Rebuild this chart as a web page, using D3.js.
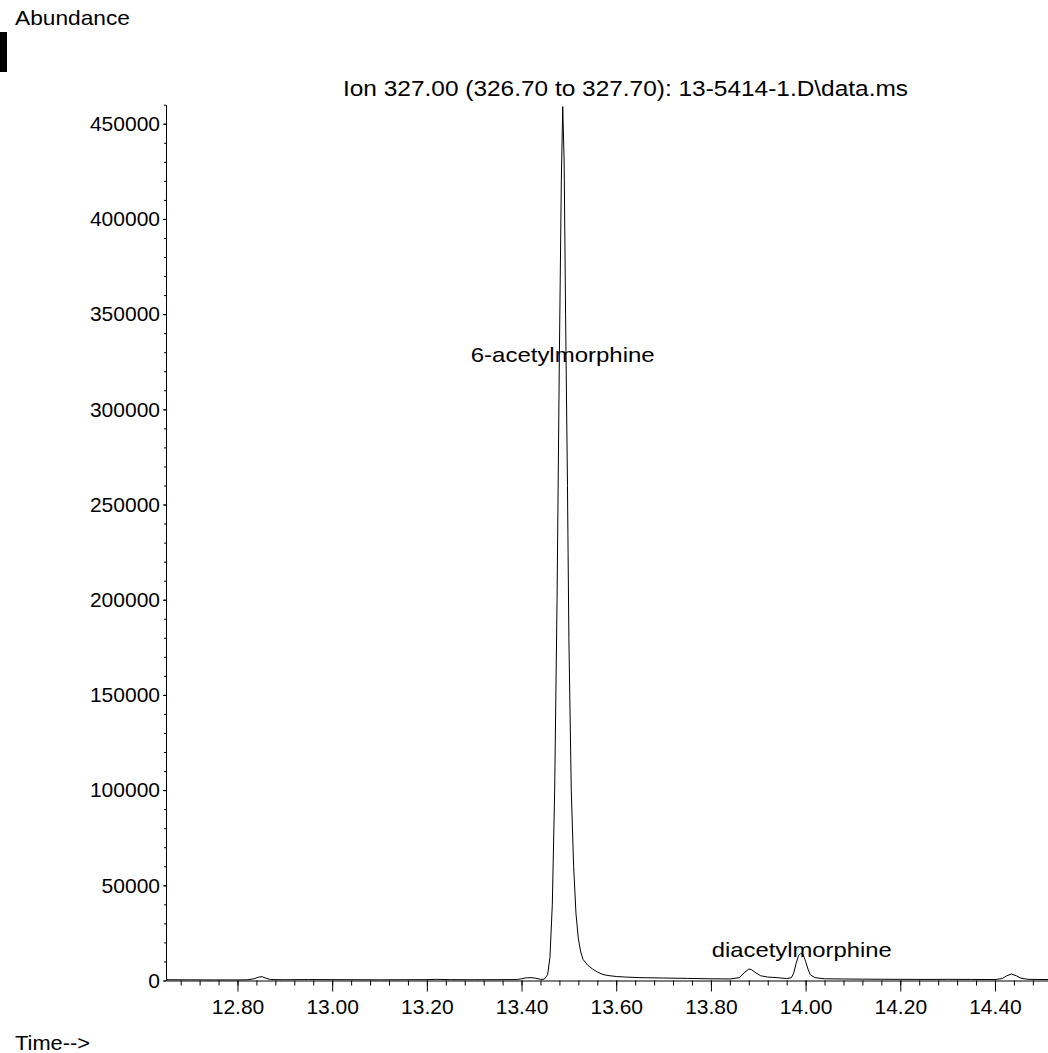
<!DOCTYPE html>
<html>
<head>
<meta charset="utf-8">
<script src="https://cdn.jsdelivr.net/npm/d3@7"></script>
<style>
  html, body { margin: 0; padding: 0; background: #fff; }
  svg text { font-family: "Liberation Sans", Arial, sans-serif; fill: #000; }
</style>
</head>
<body>
<svg id="chart" width="1048" height="1053"></svg>
<script>
// ---- Data ----
const times = [12.65, 12.70, 12.75, 12.80, 12.82, 12.835, 12.845, 12.852, 12.86, 12.87,
  12.90, 12.95, 13.00, 13.05, 13.10, 13.15, 13.20, 13.22, 13.25, 13.30,
  13.35, 13.39, 13.40, 13.41, 13.42, 13.43, 13.44, 13.448, 13.455, 13.46,
  13.465, 13.47, 13.475, 13.48, 13.484, 13.487, 13.49, 13.493, 13.497, 13.50,
  13.505, 13.51, 13.515, 13.52, 13.525, 13.53, 13.54, 13.55, 13.56, 13.57,
  13.58, 13.60, 13.62, 13.65, 13.70, 13.75, 13.80, 13.84, 13.86, 13.87,
  13.88, 13.885, 13.895, 13.905, 13.92, 13.94, 13.96, 13.97, 13.975, 13.98,
  13.985, 13.99, 13.995, 14.00, 14.005, 14.01, 14.02, 14.04, 14.08, 14.12,
  14.16, 14.20, 14.25, 14.30, 14.35, 14.40, 14.415, 14.425, 14.435, 14.445,
  14.455, 14.47, 14.512];
const abundance = [400, 350, 300, 300, 350, 900, 1800, 2000, 1200, 500,
  400, 500, 450, 400, 350, 400, 450, 600, 450, 400,
  450, 500, 900, 1400, 1500, 1200, 600, 700, 3000, 12000,
  40000, 100000, 200000, 330000, 420000, 459000, 430000, 350000, 260000, 180000,
  100000, 60000, 35000, 22000, 15000, 11000, 8000, 6000, 4500, 3300,
  2700, 2100, 1800, 1500, 1300, 1100, 900, 800, 1500, 4000,
  6000, 5800, 4000, 2500, 1800, 1500, 1000, 1500, 4000, 9000,
  13000, 14300, 13500, 10000, 6000, 3000, 1500, 900, 800, 700,
  650, 600, 550, 600, 550, 500, 1000, 2500, 3400, 2500,
  1200, 600, 500];

const xMajorTicks = [12.80, 13.00, 13.20, 13.40, 13.60, 13.80, 14.00, 14.20, 14.40];
const xMinorTicks = d3.range(12.68, 14.50, 0.04).map(v => +v.toFixed(2));
const yMajorTicks = d3.range(0, 450001, 50000);
const yMinorTicks = d3.range(0, 460001, 10000);

const peakLabels = ["6-acetylmorphine", "diacetylmorphine"];
const peakLabelTimes = [13.487, 13.992];
const peakLabelValues = [325000, 12500];

const titleText = "Ion 327.00 (326.70 to 327.70): 13-5414-1.D\\data.ms";
const yLabelText = "Abundance";
const xLabelText = "Time-->";

// ---- Layout ----
const svg = d3.select("#chart");
const plotLeft = 166, plotRight = 1048, plotTop = 104.7, plotBottom = 980.5;

const x = d3.scaleLinear().domain([12.649, 14.512]).range([plotLeft, plotRight]);
const y = d3.scaleLinear().domain([0, 460000]).range([plotBottom, plotTop]);

const FONT = 21;

// Y axis minor ticks
svg.append("g")
  .attr("transform", `translate(${plotLeft},0)`)
  .call(d3.axisLeft(y).tickValues(yMinorTicks).tickSize(2).tickFormat("").tickSizeOuter(0))
  .call(g => g.select(".domain").remove())
  .call(g => g.selectAll("line").attr("stroke", "#000"));

// Y axis major
svg.append("g")
  .attr("transform", `translate(${plotLeft},0)`)
  .call(d3.axisLeft(y).tickValues(yMajorTicks).tickSize(3).tickPadding(3).tickSizeOuter(0).tickFormat(d3.format("d")))
  .call(g => g.selectAll("text").attr("font-size", FONT).attr("font-family", "Liberation Sans, Arial, sans-serif").attr("fill", "#000"))
  .call(g => g.selectAll("line, path").attr("stroke", "#000"));

// X axis minor ticks
svg.append("g")
  .attr("transform", `translate(0,${plotBottom})`)
  .call(d3.axisBottom(x).tickValues(xMinorTicks).tickSize(5).tickFormat("").tickSizeOuter(0))
  .call(g => g.select(".domain").remove())
  .call(g => g.selectAll("line").attr("stroke", "#000"));

// X axis major
svg.append("g")
  .attr("transform", `translate(0,${plotBottom})`)
  .call(d3.axisBottom(x).tickValues(xMajorTicks).tickSize(11).tickPadding(8).tickSizeOuter(0).tickFormat(d3.format(".2f")))
  .call(g => g.selectAll("text").attr("font-size", FONT).attr("font-family", "Liberation Sans, Arial, sans-serif").attr("fill", "#000"))
  .call(g => g.selectAll("line, path").attr("stroke", "#000"));

// Trace
const data = times.map((t, i) => ({ t, v: abundance[i] }));
const line = d3.line().x(d => x(d.t)).y(d => y(d.v)).curve(d3.curveLinear);
svg.append("path")
  .datum(data)
  .attr("d", line)
  .attr("fill", "none")
  .attr("stroke", "#000")
  .attr("stroke-width", 1);

// Peak labels
const labelWidths = [184, 180];
peakLabels.forEach((lab, i) => {
  svg.append("text")
    .attr("x", x(peakLabelTimes[i]))
    .attr("y", y(peakLabelValues[i]))
    .attr("text-anchor", "middle")
    .attr("font-size", FONT)
    .attr("textLength", labelWidths[i])
    .attr("lengthAdjust", "spacingAndGlyphs")
    .text(lab);
});

// Title
svg.append("text")
  .attr("x", 625.5).attr("y", 95.5)
  .attr("text-anchor", "middle")
  .attr("font-size", 22)
  .attr("textLength", 565)
  .attr("lengthAdjust", "spacingAndGlyphs")
  .text(titleText);

// Abundance label
svg.append("text")
  .attr("x", 15).attr("y", 25)
  .attr("font-size", 21)
  .attr("textLength", 115)
  .attr("lengthAdjust", "spacingAndGlyphs")
  .text(yLabelText);

// Black marker bar at top-left
svg.append("rect")
  .attr("x", 0).attr("y", 32).attr("width", 7).attr("height", 40)
  .attr("fill", "#000");

// Time label
svg.append("text")
  .attr("x", 15).attr("y", 1050)
  .attr("font-size", 21)
  .attr("textLength", 75)
  .attr("lengthAdjust", "spacingAndGlyphs")
  .text(xLabelText);
</script>
</body>
</html>
